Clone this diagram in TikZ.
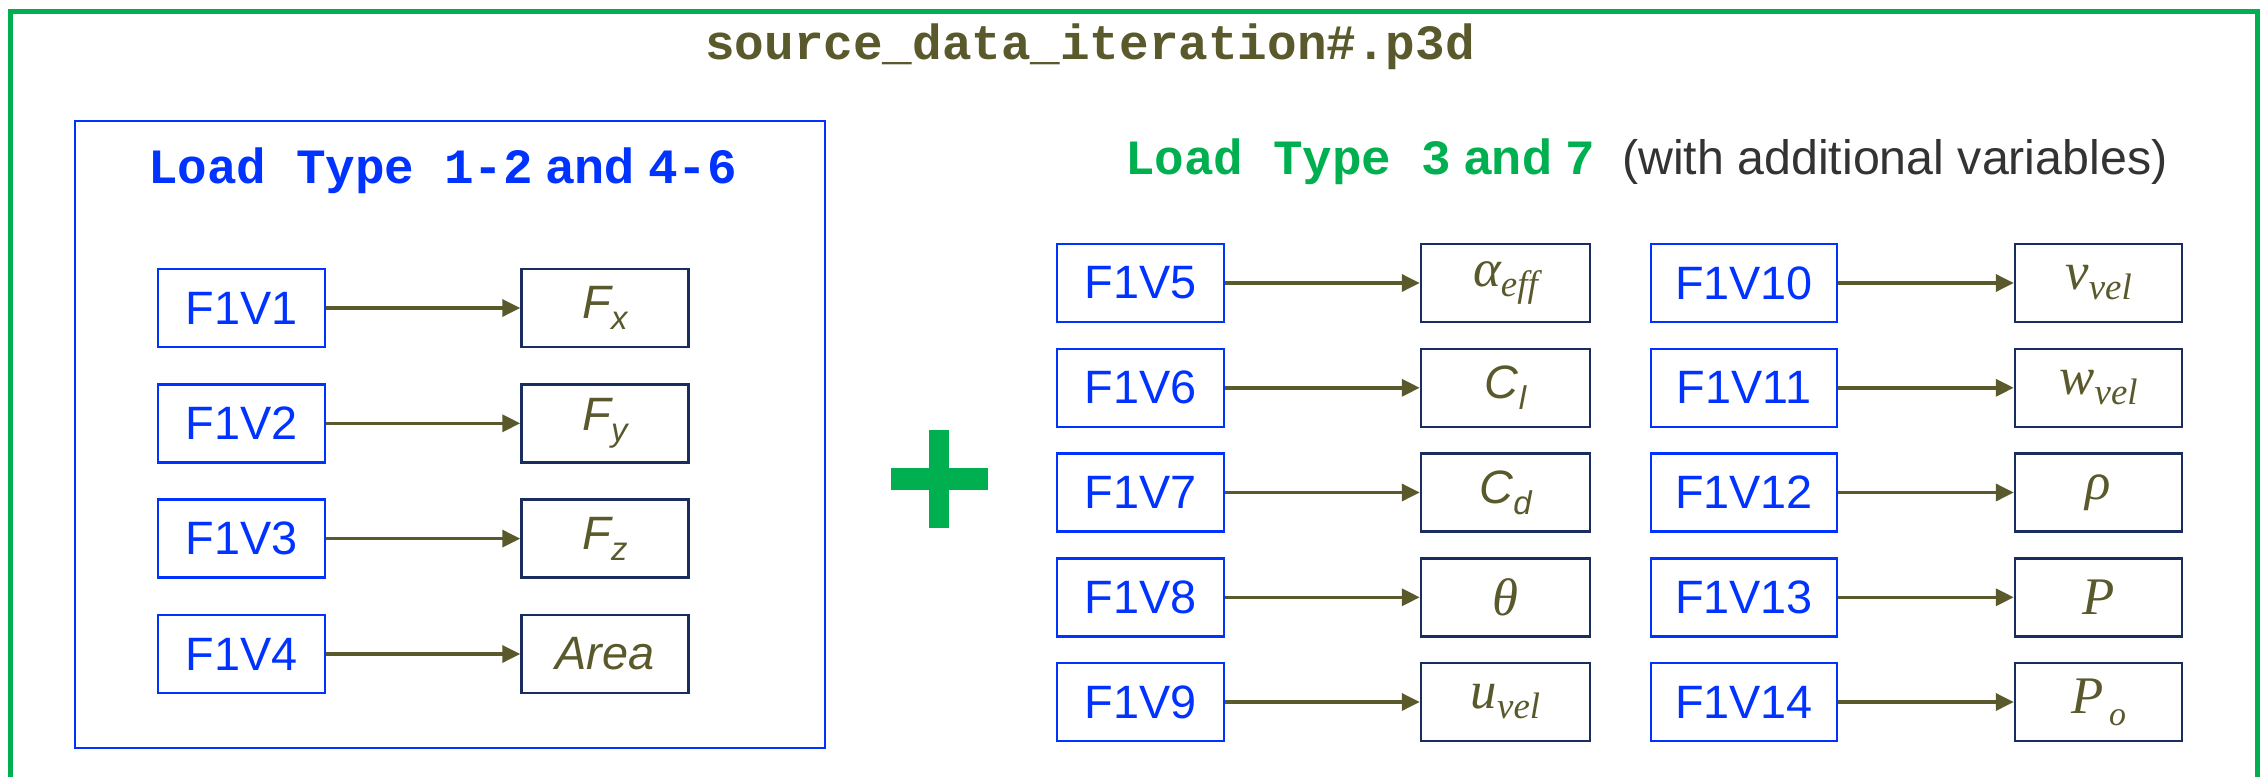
\documentclass[tikz,border=0pt]{standalone}
\usepackage{fontspec}
\setmainfont{Liberation Sans}
\newfontfamily\monofam{Liberation Mono}
\newfontfamily\cambfam{Liberation Serif}
\usetikzlibrary{arrows.meta}
\definecolor{frameGreen}{RGB}{0,176,80}
\definecolor{srcBlue}{RGB}{0,51,255}
\definecolor{oliveTxt}{RGB}{89,89,44}
\definecolor{navyBox}{RGB}{25,45,95}
\definecolor{grayTxt}{RGB}{51,51,51}
\newcommand{\subsc}[1]{\raisebox{-11bp}{\fontsize{33}{40}\selectfont #1}}
\newcommand{\subsm}[1]{\raisebox{-10bp}{\fontsize{37}{44}\selectfont #1}}
\newcommand{\mvar}[1]{{\cambfam\itshape\fontsize{53}{60}\selectfont #1}}
\begin{document}
\begin{tikzpicture}[x=1bp,y=-1bp,
  src/.style={draw=srcBlue, line width=2.5bp, minimum width=167bp, minimum height=78bp, inner sep=0pt, text=srcBlue, font=\fontsize{47}{56}\selectfont},
  tgt/.style={draw=navyBox, line width=2.5bp, minimum width=167bp, minimum height=78bp, inner sep=0pt, text=oliveTxt, font=\fontsize{47}{56}\selectfont},
  link/.style={draw=oliveTxt, line width=3.5bp, -{Triangle[length=18bp,width=17bp]}},
  hdr/.style={inner sep=0pt, font=\fontsize{49.5}{58}\selectfont},
]
\clip (0,0) rectangle (2265,776);
\fill[white] (0,0) rectangle (2265,776);
% outer frame
\draw[frameGreen, line width=5bp] (10,12) rectangle (2257,820);
\node[hdr, anchor=base, text=oliveTxt] (title) at (1090,60) {\monofam\bfseries source\_data\_iteration\#.p3d};
% left container
\draw[srcBlue, line width=2.5bp] (75,121) rectangle (825,748);
\node[hdr, anchor=base west, text=srcBlue] (lhead) at (148,183) {{\monofam\bfseries Load Type 1-2} {\bfseries and} {\monofam\bfseries 4-6}};
% left rows
\node[src] (s1) at (241.5,308) {F1V1};
\node[src] (s2) at (241.5,423.3) {F1V2};
\node[src] (s3) at (241.5,538.6) {F1V3};
\node[src] (s4) at (241.5,654) {F1V4};
\node[tgt] (t1) at (605,308) {\itshape F\subsc{x}};
\node[tgt] (t2) at (605,423.3) {\itshape F\subsc{y}};
\node[tgt] (t3) at (605,538.6) {\itshape F\subsc{z}};
\node[tgt] (t4) at (605,654) {\itshape Area};
\foreach \i in {1,...,4} {\draw[link] (s\i) -- (t\i);}
% plus
\fill[frameGreen] (891,468) rectangle (988,490);
\fill[frameGreen] (929,430) rectangle (949,528);
% right header
\node[hdr, anchor=base west, text=frameGreen] (rhead) at (1125,174) {{\monofam\bfseries Load Type 3} {\bfseries and} {\monofam\bfseries 7}};
\node[hdr, anchor=base west, text=grayTxt, font=\fontsize{48.5}{58}\selectfont] (rnote) at (1622,174) {(with additional variables)};
% right column 1
\node[src] (s5) at (1140.5,283) {F1V5};
\node[src] (s6) at (1140.5,387.8) {F1V6};
\node[src] (s7) at (1140.5,492.5) {F1V7};
\node[src] (s8) at (1140.5,597.3) {F1V8};
\node[src] (s9) at (1140.5,702) {F1V9};
\node[tgt, minimum width=169bp] (t5) at (1505.5,283) {\mvar{α\subsm{eff}}};
\node[tgt, minimum width=169bp] (t6) at (1505.5,387.8) {\itshape C\subsc{l}};
\node[tgt, minimum width=169bp] (t7) at (1505.5,492.5) {\itshape C\subsc{d}};
\node[tgt, minimum width=169bp] (t8) at (1505.5,597.3) {\mvar{θ}};
\node[tgt, minimum width=169bp] (t9) at (1505.5,702) {\mvar{u\subsm{vel}}};
% right column 2
\node[src, minimum width=186bp] (s10) at (1744,283) {F1V10};
\node[src, minimum width=186bp] (s11) at (1744,387.8) {F1V11};
\node[src, minimum width=186bp] (s12) at (1744,492.5) {F1V12};
\node[src, minimum width=186bp] (s13) at (1744,597.3) {F1V13};
\node[src, minimum width=186bp] (s14) at (1744,702) {F1V14};
\node[tgt] (t10) at (2098.5,283) {\mvar{v\subsm{vel}}};
\node[tgt] (t11) at (2098.5,387.8) {\mvar{w\subsm{vel}}};
\node[tgt] (t12) at (2098.5,492.5) {\mvar{ρ}};
\node[tgt] (t13) at (2098.5,597.3) {\mvar{P}};
\node[tgt] (t14) at (2098.5,702) {\mvar{P\raisebox{-12bp}{\fontsize{34}{40}\selectfont\,o}}};
\foreach \i in {5,...,14} {\draw[link] (s\i) -- (t\i);}
\end{tikzpicture}
\end{document}
